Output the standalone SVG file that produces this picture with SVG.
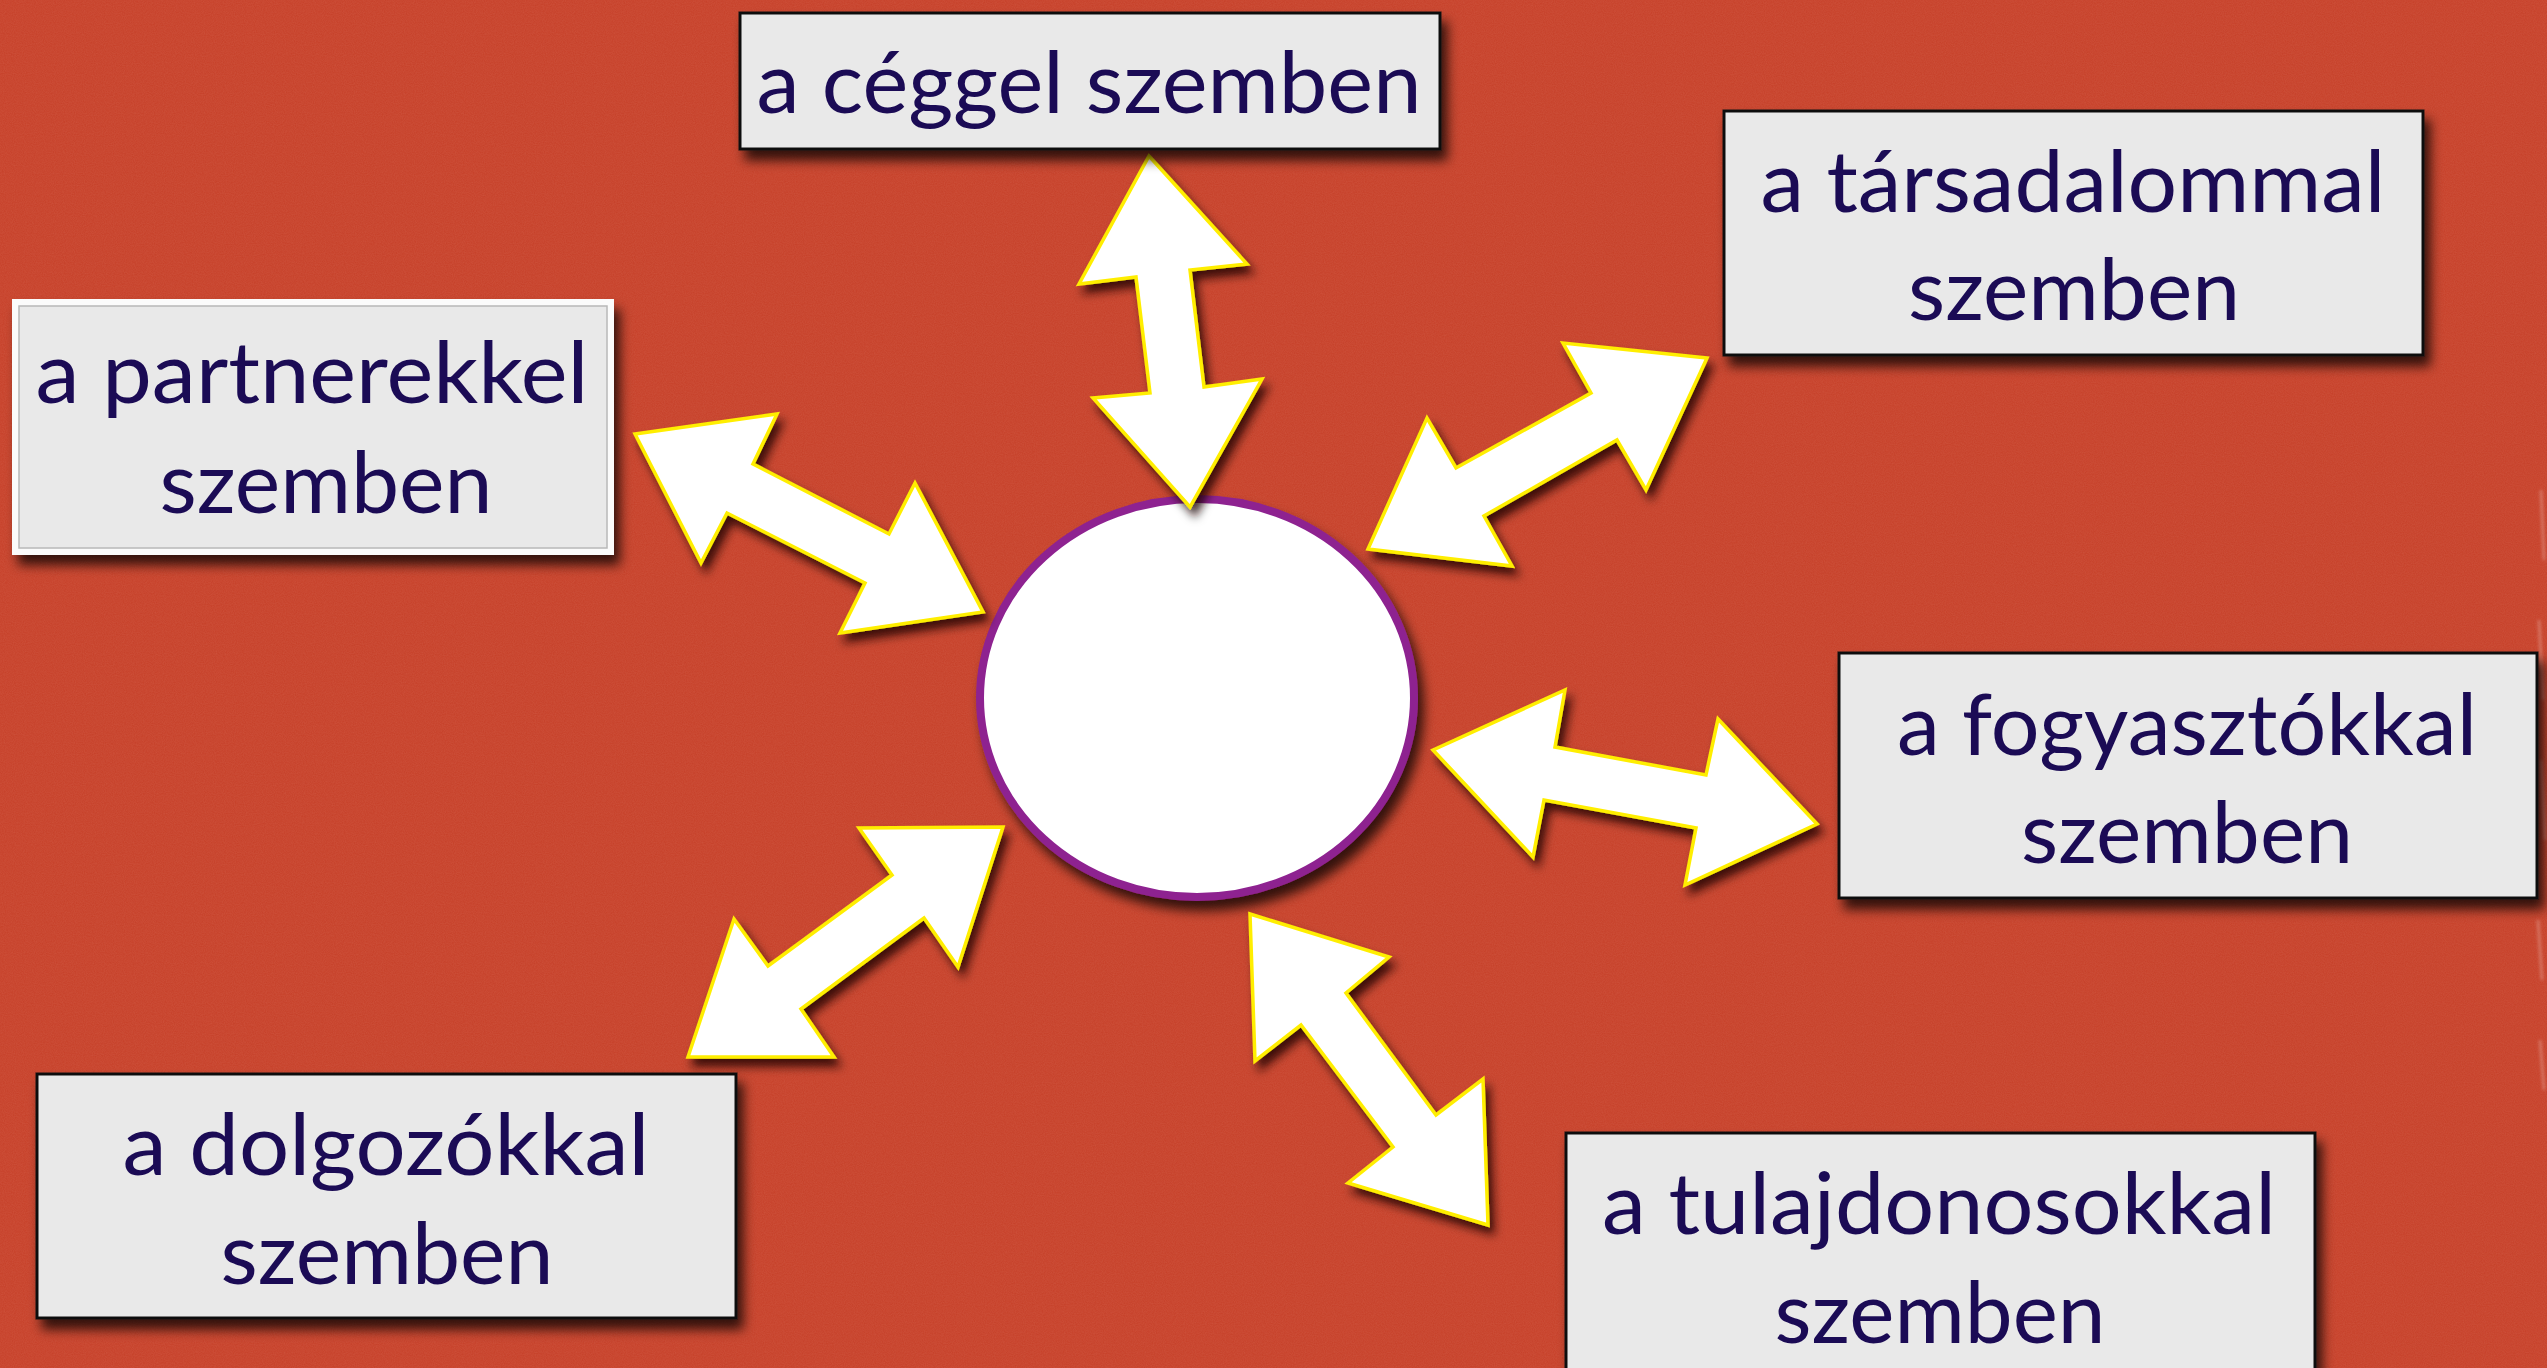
<svg xmlns="http://www.w3.org/2000/svg" width="2547" height="1368" viewBox="0 0 2547 1368">
  <defs>
    <filter id="noise" x="0" y="0" width="100%" height="100%">
      <feTurbulence type="fractalNoise" baseFrequency="0.9" numOctaves="2" seed="3" result="n"/>
      <feColorMatrix type="matrix" values="0 0 0 0 1  0 0 0 0 0.6  0 0 0 0 0.5  0 0 0 0.35 -0.05" />
    </filter>
    <filter id="soft" x="-50%" y="-10%" width="200%" height="120%">
      <feGaussianBlur stdDeviation="1.5"/>
    </filter>
    <filter id="shadow" x="-20%" y="-20%" width="150%" height="150%">
      <feDropShadow dx="6" dy="10" stdDeviation="6" flood-color="#000" flood-opacity="0.75"/>
    </filter>
    <filter id="ashadow" x="-20%" y="-20%" width="150%" height="150%">
      <feDropShadow dx="5" dy="8" stdDeviation="5" flood-color="#1a0000" flood-opacity="0.8"/>
    </filter>
  </defs>
  <style>
    .box { fill: #e9e9e9; stroke: #111; stroke-width: 3; }
    .lbl { font-family: "Lato", "Noto Sans", sans-serif; font-size: 85px; fill: #1b0b55; text-anchor: middle; }
    .arrow { fill: #ffffff; stroke: #ffee00; stroke-width: 3.5; stroke-linejoin: miter; }
  </style>

  <rect width="2547" height="1368" fill="#c7422b"/>
  <rect width="2547" height="1368" filter="url(#noise)" opacity="0.35"/>
  <g opacity="0.3" stroke="#f4d8d0" stroke-width="3" fill="none" filter="url(#soft)">
    <path d="M2541 490 L2544 560 M2539 620 L2543 700 M2541 760 L2545 840 M2538 920 L2542 980 M2540 1040 L2544 1090"/>
  </g>

  <g id="node-center" filter="url(#shadow)">
    <ellipse cx="1197" cy="698" rx="217" ry="199" fill="#ffffff" stroke="#8e2290" stroke-width="8"/>
  </g>

  <g id="connectors" filter="url(#ashadow)">
    <polygon class="arrow" points="1149,156 1247,264 1190,270 1204,387 1262,379 1190,507 1093,398 1150,393 1136,277 1079,284"/>
    <polygon class="arrow" points="1707,358 1646,490 1617,440 1484,516 1512,566 1368,549 1427,418 1456,468 1591,393 1563,343"/>
    <polygon class="arrow" points="635,434 777,414 753,464 889,534 915,483 983,612 840,633 865,583 727,513 701,563"/>
    <polygon class="arrow" points="1433,750 1565,690 1555,747 1706,775 1718,719 1817,824 1685,885 1696,828 1544,800 1533,857"/>
    <polygon class="arrow" points="1003,827 958,967 924,918 801,1009 834,1057 688,1057 734,919 768,966 892,875 859,828"/>
    <polygon class="arrow" points="1250,914 1389,957 1346,993 1436,1115 1483,1079 1488,1225 1348,1183 1393,1147 1301,1025 1255,1061"/>
  </g>

  <g id="node-ceggel">
    <rect class="box" x="740" y="13" width="700" height="136" filter="url(#shadow)"/>
    <text class="lbl" x="1089" y="113" textLength="665" lengthAdjust="spacingAndGlyphs">a céggel szemben</text>
  </g>

  <g id="node-tarsadalommal">
    <rect class="box" x="1724" y="111" width="699" height="244" filter="url(#shadow)"/>
    <text class="lbl" x="2073" y="212" textLength="625" lengthAdjust="spacingAndGlyphs">a társadalommal</text>
    <text class="lbl" x="2074" y="320" textLength="332" lengthAdjust="spacingAndGlyphs">szemben</text>
  </g>

  <g id="node-partnerekkel">
    <rect x="12" y="299" width="602" height="256" fill="#fbfbfb" filter="url(#shadow)"/>
    <rect x="19" y="306" width="588" height="242" fill="#e9e9e9" stroke="#b8b8b8" stroke-width="1.5"/>
    <text class="lbl" x="312" y="403" textLength="553" lengthAdjust="spacingAndGlyphs">a partnerekkel</text>
    <text class="lbl" x="326" y="513" textLength="333" lengthAdjust="spacingAndGlyphs">szemben</text>
  </g>

  <g id="node-fogyasztokkal">
    <rect class="box" x="1839" y="653" width="698" height="245" filter="url(#shadow)"/>
    <text class="lbl" x="2187" y="755" textLength="580" lengthAdjust="spacingAndGlyphs">a fogyasztókkal</text>
    <text class="lbl" x="2187" y="863" textLength="332" lengthAdjust="spacingAndGlyphs">szemben</text>
  </g>

  <g id="node-dolgozokkal">
    <rect class="box" x="37" y="1074" width="699" height="244" filter="url(#shadow)"/>
    <text class="lbl" x="386" y="1175" textLength="527" lengthAdjust="spacingAndGlyphs">a dolgozókkal</text>
    <text class="lbl" x="387" y="1284" textLength="333" lengthAdjust="spacingAndGlyphs">szemben</text>
  </g>

  <g id="node-tulajdonosokkal">
    <rect class="box" x="1566" y="1133" width="749" height="260" filter="url(#shadow)"/>
    <text class="lbl" x="1939" y="1234" textLength="674" lengthAdjust="spacingAndGlyphs">a tulajdonosokkal</text>
    <text class="lbl" x="1940" y="1343" textLength="331" lengthAdjust="spacingAndGlyphs">szemben</text>
  </g>
</svg>
